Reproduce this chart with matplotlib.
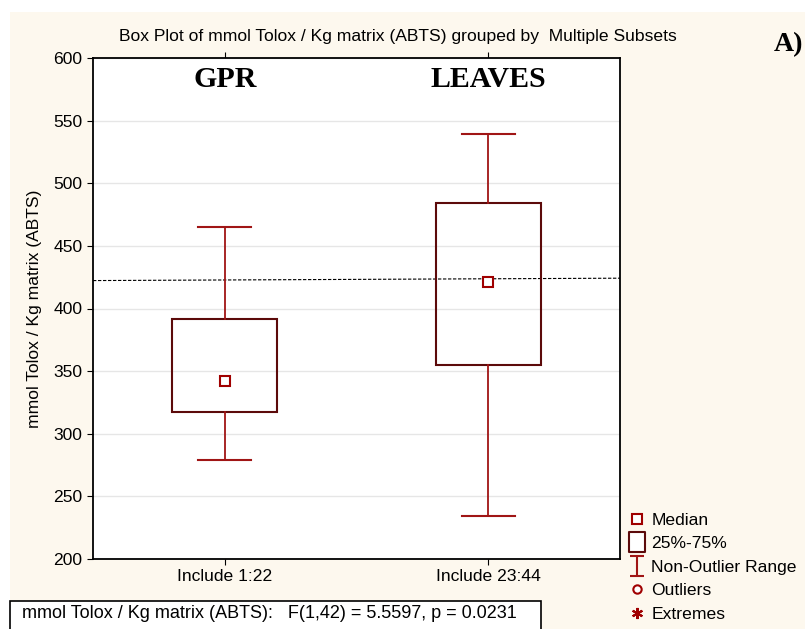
import matplotlib
matplotlib.use("Agg")
import matplotlib.pyplot as plt
from matplotlib.patches import Rectangle
from matplotlib.lines import Line2D
from matplotlib.path import Path

# data
groups = ["Include 1:22", "Include 23:44"]
group_titles = ["GPR", "LEAVES"]
medians = [342, 421]
q1 = [317, 355]
q3 = [392, 484]
whisk_low = [279, 234]
whisk_high = [465, 539]
ref_line = [422.3, 424.2]  # dashed line at left and right edges
yticks = [200, 250, 300, 350, 400, 450, 500, 550, 600]

title = "Box Plot of mmol Tolox / Kg matrix (ABTS) grouped by  Multiple Subsets"
ylabel = "mmol Tolox / Kg matrix (ABTS)"
stat_text = "mmol Tolox / Kg matrix (ABTS):   F(1,42) = 5.5597, p = 0.0231"

cream = "#fdf8ee"
box_col = "#5c0a0a"
whisk_col = "#a01515"
med_col = "#a00000"
fs = 12.6

plt.rcParams['font.family'] = ['Liberation Sans', 'DejaVu Sans']

fig = plt.figure(figsize=(8.05, 6.29), dpi=100, facecolor="white")
fig.patches.append(Rectangle((10 / 805, 0), 1, 1 - 12 / 629, transform=fig.transFigure,
                             facecolor=cream, edgecolor="none", zorder=-10))

ax = fig.add_axes([93 / 805, 1 - 559 / 629, 527 / 805, 501 / 629])
ax.set_facecolor("white")

pos = [1, 2]
bw = 0.4
cap = 0.1
for i, p in enumerate(pos):
    ax.add_patch(Rectangle((p - bw / 2, q1[i]), bw, q3[i] - q1[i], facecolor="none",
                           edgecolor=box_col, lw=1.5, zorder=3))
    ax.plot([p, p], [q3[i], whisk_high[i]], color=whisk_col, lw=1.3, zorder=3)
    ax.plot([p, p], [q1[i], whisk_low[i]], color=whisk_col, lw=1.3, zorder=3)
    ax.plot([p - cap, p + cap], [whisk_high[i]] * 2, color=whisk_col, lw=1.5, zorder=3)
    ax.plot([p - cap, p + cap], [whisk_low[i]] * 2, color=whisk_col, lw=1.5, zorder=3)
    ax.plot(p, medians[i], marker="s", ms=7, mfc="white", mec=med_col, mew=1.5, zorder=4)
    ax.text(p, 594, group_titles[i], ha="center", va="top", fontsize=21.5, fontweight="bold",
            family=["Liberation Serif", "DejaVu Serif"])

ax.plot([0.5, 2.5], ref_line, color="black", lw=0.8, ls=(0, (3, 1.5)), zorder=2)

ax.set_xlim(0.5, 2.5)
ax.set_ylim(200, 600)
ax.set_xticks(pos)
ax.set_xticklabels(groups, fontsize=fs)
ax.set_yticks(yticks)
ax.tick_params(axis="y", labelsize=fs, length=4, direction="out")
ax.tick_params(axis="x", length=4, direction="out", top=True)
ax.grid(axis="y", color="#e6e6e6", lw=1)
ax.set_axisbelow(True)
for s in ax.spines.values():
    s.set_linewidth(1.3)
ax.set_ylabel(ylabel, fontsize=fs, labelpad=8)

fig.text(398 / 805, 1 - 36 / 629, title, ha="center", va="center", fontsize=fs)
fig.text(774 / 805, 1 - 45 / 629, "A)", ha="left", va="center", fontsize=20,
         fontweight="bold", family=["Liberation Serif", "DejaVu Serif"])

fig.text(22 / 805, 1 - 614 / 629, stat_text, ha="left", va="center", fontsize=13)
fig.patches.append(Rectangle((10 / 805, -0.01), 531 / 805, 28 / 629 + 0.01,
                             transform=fig.transFigure, facecolor="white",
                             edgecolor="black", lw=1.2, zorder=-5))

# legend
ibeam = Path([(-0.35, 0.5), (0.35, 0.5), (0, 0.5), (0, -0.5), (-0.35, -0.5), (0.35, -0.5)],
             [Path.MOVETO, Path.LINETO, Path.MOVETO, Path.LINETO, Path.MOVETO, Path.LINETO])
tallbox = Path([(-0.4, -0.5), (0.4, -0.5), (0.4, 0.5), (-0.4, 0.5), (-0.4, -0.5)],
               [Path.MOVETO, Path.LINETO, Path.LINETO, Path.LINETO, Path.CLOSEPOLY])
handles = [
    Line2D([], [], ls="none", marker="s", ms=7, mfc="white", mec=med_col, mew=1.5),
    Line2D([], [], ls="none", marker=tallbox, ms=14, mfc="white", mec=box_col, mew=1.5),
    Line2D([], [], ls="none", marker=ibeam, ms=15, mfc="none", mec=whisk_col, mew=1.5),
    Line2D([], [], ls="none", marker="o", ms=6, mfc="white", mec=med_col, mew=1.5),
    Line2D([], [], ls="none", marker=(6, 2, 0), ms=8, color=med_col, mew=1.5),
]
labels = ["Median", "25%-75%", "Non-Outlier Range", "Outliers", "Extremes"]
fig.legend(handles, labels, loc="upper left", bbox_to_anchor=(619 / 805, 1 - 504 / 629),
           frameon=False, fontsize=fs, handlelength=1.0, handletextpad=0.35,
           labelspacing=0.47, borderpad=0)

fig.savefig("out.png", dpi=100, facecolor=fig.get_facecolor())
